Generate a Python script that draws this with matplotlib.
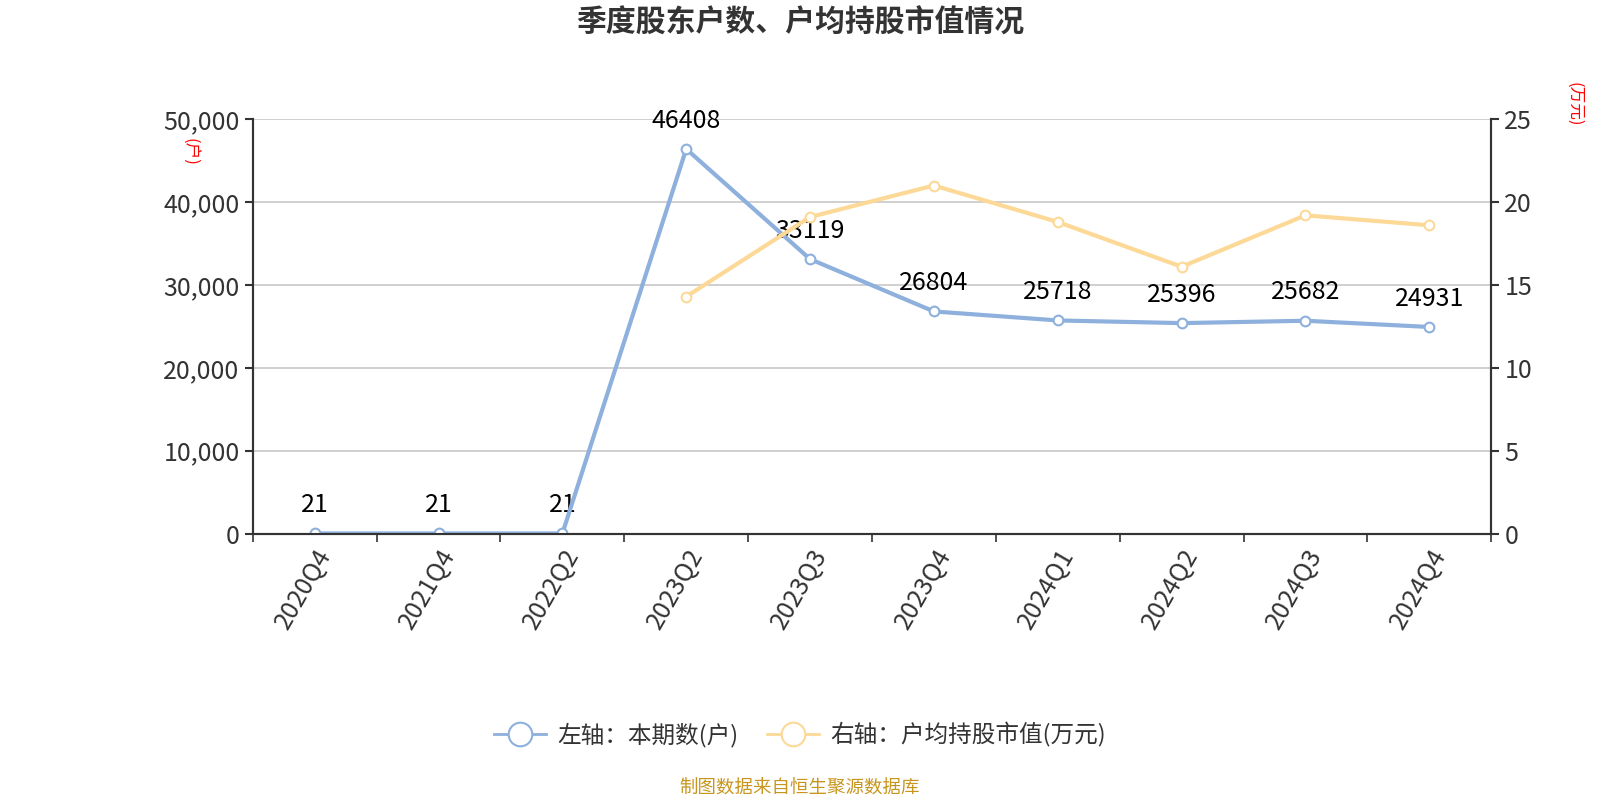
import numpy as np
import matplotlib.pyplot as plt
from matplotlib.lines import Line2D

plt.rcParams['font.family'] = ['Noto Sans CJK SC', 'DejaVu Sans']

# -------------------------
# DATA
# -------------------------
quarters = ["2020Q4", "2021Q4", "2022Q2", "2023Q2", "2023Q3",
            "2023Q4", "2024Q1", "2024Q2", "2024Q3", "2024Q4"]
holders = [21, 21, 21, 46408, 33119, 26804, 25718, 25396, 25682, 24931]
# avg holding value (万元), missing for first three quarters
avg_value = [np.nan, np.nan, np.nan, 14.3, 19.1, 21.0, 18.8, 16.1, 19.2, 18.6]

blue = "#8eb0dc"
yellow = "#fdd998"

fig = plt.figure(figsize=(16, 8), dpi=100)
ax = fig.add_axes([0.158, 0.333, 0.774, 0.518])
ax2 = ax.twinx()

x = np.arange(len(quarters))

ax.plot(x, holders, color=blue, lw=3, marker="o", ms=7,
        mfc="white", mec=blue, mew=1.5, zorder=5)
for xi, v in zip(x, holders):
    ax.annotate(str(v), (xi, v), xytext=(0, 11), textcoords="offset points",
                ha="center", va="bottom", fontsize=18, color="black")

ax2.plot(x, avg_value, color=yellow, lw=3, marker="o", ms=7,
         mfc="white", mec=yellow, mew=1.5, zorder=4)

ax.set_xlim(-0.5, len(quarters) - 0.5)
ax.set_ylim(0, 50000)
ax2.set_ylim(0, 25)
ax.set_yticks(np.arange(0, 50001, 10000))
ax.set_yticklabels([f"{v:,}" for v in range(0, 50001, 10000)])
ax2.set_yticks(np.arange(0, 26, 5))

ax.yaxis.grid(True, color="#c8c8c8", lw=1.2)
ax.set_axisbelow(True)

# category ticks at boundaries, labels centered
ax.set_xticks(np.arange(-0.5, len(quarters), 1), minor=False)
ax.set_xticklabels([])
ax.set_xticks(x, minor=True)
ax.set_xticklabels(quarters, minor=True, rotation=60, ha="right",
                   rotation_mode="anchor", fontsize=18, color="#333333")
ax.tick_params(axis="x", which="minor", length=0, pad=8)
ax.tick_params(axis="x", which="major", length=6, width=1.2, color="#333333")

for a in (ax, ax2):
    a.spines["top"].set_visible(False)
    for s in ("left", "right", "bottom"):
        a.spines[s].set_color("#333333")
        a.spines[s].set_linewidth(1.5)
ax.tick_params(axis="y", labelsize=18, labelcolor="#333333", length=6,
               width=1.5, color="#333333")
ax2.tick_params(axis="y", labelsize=18, labelcolor="#333333", length=6,
                width=1.5, color="#333333")

fig.text(0.118, 0.81, "(户)", color="red", fontsize=12, rotation=270,
         ha="center", va="center")
fig.text(0.984, 0.87, "(万元)", color="red", fontsize=12, rotation=270,
         ha="center", va="center")

fig.text(0.5, 0.972, "季度股东户数、户均持股市值情况", ha="center", va="center",
         fontsize=21.5, fontweight="bold", color="#333333")

handles = [
    Line2D([], [], color=blue, lw=2, marker="o", ms=17, mfc="white",
           mec=blue, mew=1.5),
    Line2D([], [], color=yellow, lw=2, marker="o", ms=17, mfc="white",
           mec=yellow, mew=1.5),
]
fig.legend(handles, ["左轴：本期数(户)", "右轴：户均持股市值(万元)"],
           loc="center", bbox_to_anchor=(0.5, 0.082), ncol=2, frameon=False,
           fontsize=17, handlelength=2.2, handletextpad=0.5, columnspacing=1.2,
           labelcolor="#333333")

fig.text(0.5, 0.014, "制图数据来自恒生聚源数据库", ha="center", va="center",
         fontsize=13.3, color="#c8961e")

fig.savefig("out.png", dpi=100)
